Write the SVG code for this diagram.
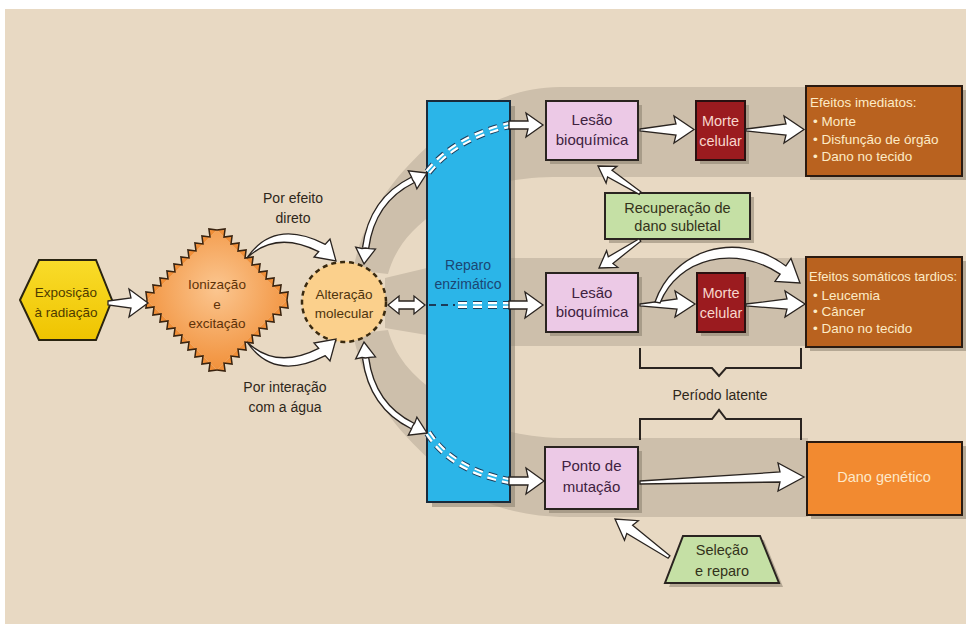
<svg xmlns="http://www.w3.org/2000/svg" width="966" height="624" viewBox="0 0 966 624">
<defs>
<style>
text{font-family:"Liberation Sans",Arial,sans-serif;text-anchor:middle}
.arr{fill:#fff;stroke:#2a2420;stroke-width:1.3;stroke-linejoin:miter}
.sh{fill:#8a7f6e;opacity:.55}
.band{fill:#cdbfab}
.lil{fill:#ecc9e6;stroke:#2a2420;stroke-width:2}
.mor{fill:#9b1b1f;stroke:#2a1010;stroke-width:2}
.efe{fill:#b9621f;stroke:#2a1a10;stroke-width:2}
.grn{fill:#c5e0a5;stroke:#2a2420;stroke-width:2}
.tl{font-size:15px;fill:#3e2240}
.tm{font-size:14.5px;fill:#f8d6cc}
.te{font-size:13px;fill:#fdebc6;text-anchor:start}
.tg{font-size:14.5px;fill:#33321a}
.lab{font-size:14px;fill:#2e271a}
.dk{fill:none;stroke:#1c3c5a;stroke-width:8;stroke-dasharray:9 6}
.wh{fill:none;stroke:#fff;stroke-width:6;stroke-dasharray:9 6}
.sp{fill:none;stroke:#2bb5e8;stroke-width:1.6}
.zz{fill:#f18f38;stroke:#3a2410;stroke-width:1.5;stroke-linejoin:miter}
.br{fill:none;stroke:#2a2420;stroke-width:2}
</style>
<radialGradient id="dg" cx="0.5" cy="0.42" r="0.6">
<stop offset="0" stop-color="#fbc690"/><stop offset="1" stop-color="#f18f38"/>
</radialGradient>
<linearGradient id="hg" x1="0" y1="0" x2="0" y2="1">
<stop offset="0" stop-color="#f9dc2a"/><stop offset="1" stop-color="#efc400"/>
</linearGradient>
<path id="zzp" d="M0,0 L4.95,-6.5 L9.9,0 L14.85,-6.5 L19.8,0 L24.75,-6.5 L29.7,0 L34.65,-6.5 L39.6,0 L44.55,-6.5 L49.5,0 L54.45,-6.5 L59.4,0 L64.35,-6.5 L69.3,0 L74.25,-6.5 L79.2,0 L84.15,-6.5 L89.1,0 L94.05,-6.5 L99,0"/>
<path id="curv" d="M247,258 Q274,218 325.3,244.3 L330,239 L336,261 L314,257 L318.7,251.7 Q276,230 247,258 Z"/>
</defs>

<rect x="0" y="0" width="966" height="624" fill="#ffffff"/>
<rect x="5" y="9" width="961" height="615" fill="#e8d9c3"/>

<g id="bands">
<path class="band" d="M353,270 C365,209 400,172 430,144 C460,118 500,88 560,87 L808,87 L808,177 L560,177 C500,177 470,190 440,209 C410,229 395,249 388,274 Z"/>
<path class="band" d="M385,278 L427,268 L510,258 L808,258 L808,346 L510,346 L427,335 L385,328 Z"/>
<path class="band" d="M353,334 L388,330 C395,355 410,375 440,395 C470,420 500,436 560,438 L808,438 L808,517 L560,517 C500,515 460,495 430,460 C400,432 365,395 353,334 Z"/>
</g>

<g id="reparo">
<rect class="sh" x="432" y="106" width="83" height="401"/>
<rect x="427" y="101" width="83" height="401" fill="#2bb5e8" stroke="#1a2a3a" stroke-width="2"/>
<text x="468" y="270" style="font-size:14px;fill:#1b4673">Reparo</text>
<text x="468" y="289" style="font-size:14px;fill:#1b4673">enzimático</text>
</g>

<g id="exposicao">
<polygon points="20,300 39,260 96,260 112,300 96,340 39,340" fill="url(#hg)" stroke="#2a2410" stroke-width="2"/>
<text x="66" y="297" style="font-size:13.5px;fill:#4e3b00">Exposição</text>
<text x="66" y="317" style="font-size:13.5px;fill:#4e3b00">à radiação</text>
</g>

<g id="ionizacao">
<polygon points="217,230 287,300 217,370 147,300" fill="url(#dg)"/>
<use href="#zzp" class="zz" transform="translate(217,230) rotate(45)"/>
<use href="#zzp" class="zz" transform="translate(287,300) rotate(135)"/>
<use href="#zzp" class="zz" transform="translate(217,370) rotate(225)"/>
<use href="#zzp" class="zz" transform="translate(147,300) rotate(315)"/>
<text x="217" y="289" style="font-size:13.5px;fill:#5e3208">Ionização</text>
<text x="217" y="309" style="font-size:13.5px;fill:#5e3208">e</text>
<text x="217" y="328" style="font-size:13.5px;fill:#5e3208">excitação</text>
</g>

<g id="alteracao">
<ellipse cx="344" cy="302" rx="42" ry="40" fill="#fbd08c" stroke="#3a2a10" stroke-width="2.5" stroke-dasharray="5 4"/>
<text x="344" y="299" style="font-size:13.5px;fill:#4e340c">Alteração</text>
<text x="344" y="318" style="font-size:13.5px;fill:#4e340c">molecular</text>
</g>

<g id="lesao1">
<rect class="sh" x="550" y="105" width="92" height="59"/>
<rect class="lil" x="546" y="101" width="92" height="59"/>
<text class="tl" x="592" y="125">Lesão</text>
<text class="tl" x="592" y="145">bioquímica</text>
</g>
<g id="morte1">
<rect class="sh" x="700" y="105" width="49" height="59"/>
<rect class="mor" x="696" y="101" width="49" height="59"/>
<text class="tm" x="720.5" y="126">Morte</text>
<text class="tm" x="720.5" y="146">celular</text>
</g>
<g id="efeitos1">
<rect class="sh" x="810" y="90" width="156" height="90"/>
<rect class="efe" x="806" y="86" width="156" height="90"/>
<text class="te" x="810" y="107" style="font-size:13.5px">Efeitos imediatos:</text>
<text class="te" x="813" y="126" style="font-size:13.5px">• Morte</text>
<text class="te" x="813" y="144" style="font-size:13.5px">• Disfunção de órgão</text>
<text class="te" x="813" y="161" style="font-size:13.5px">• Dano no tecido</text>
</g>
<g id="recuperacao">
<rect class="sh" x="609" y="197" width="145" height="46"/>
<rect class="grn" x="605" y="193" width="145" height="46"/>
<text class="tg" x="677.5" y="213">Recuperação de</text>
<text class="tg" x="677.5" y="231">dano subletal</text>
</g>
<g id="lesao2">
<rect class="sh" x="550" y="277" width="92" height="59"/>
<rect class="lil" x="546" y="273" width="92" height="59"/>
<text class="tl" x="592" y="298">Lesão</text>
<text class="tl" x="592" y="317">bioquímica</text>
</g>
<g id="morte2">
<rect class="sh" x="701" y="277" width="48" height="59"/>
<rect class="mor" x="697" y="273" width="48" height="59"/>
<text class="tm" x="721" y="298">Morte</text>
<text class="tm" x="721" y="318">celular</text>
</g>
<g id="efeitos2">
<rect class="sh" x="810" y="261" width="156" height="90"/>
<rect class="efe" x="806" y="257" width="156" height="90"/>
<text class="te" x="809" y="281">Efeitos somáticos tardios:</text>
<text class="te" x="813" y="300" style="font-size:13.5px">• Leucemia</text>
<text class="te" x="813" y="316" style="font-size:13.5px">• Câncer</text>
<text class="te" x="813" y="333" style="font-size:13.5px">• Dano no tecido</text>
</g>
<g id="ponto">
<rect class="sh" x="549" y="451" width="93" height="62"/>
<rect class="lil" x="545" y="447" width="93" height="62"/>
<text class="tl" x="591.5" y="471">Ponto de</text>
<text class="tl" x="591.5" y="492">mutação</text>
</g>
<g id="dano">
<rect class="sh" x="811" y="446" width="155" height="73"/>
<rect x="807" y="442" width="155" height="73" fill="#f28a30" stroke="#2a1a10" stroke-width="2"/>
<text x="884" y="482" style="font-size:14.5px;fill:#fde8c8">Dano genético</text>
</g>
<g id="selecao">
<polygon class="sh" points="687,540 764,540 783,587 669,587"/>
<polygon class="grn" points="683,536 760,536 779,583 665,583"/>
<text class="tg" x="722" y="555">Seleção</text>
<text class="tg" x="722" y="576">e reparo</text>
</g>

<g id="connectors">
<path class="dk" d="M428,172 Q455,138 509,125"/>
<path class="wh" d="M428,172 Q455,138 509,125"/>
<path class="sp" d="M428,172 Q455,138 509,125"/>
<line x1="429" y1="305" x2="455" y2="305" stroke="#1c3c5a" stroke-width="2.2" stroke-dasharray="7 5"/>
<path class="dk" d="M458,305 L509,305"/>
<path class="wh" d="M458,305 L509,305"/>
<path class="sp" d="M458,305 L509,305"/>
<path class="dk" d="M428,433 Q452,470 509,481"/>
<path class="wh" d="M428,433 Q452,470 509,481"/>
<path class="sp" d="M428,433 Q452,470 509,481"/>

<path class="arr" d="M108,301 L131,298 L129,289 L148,303 L129,317 L131,308 L108,305 Z"/>
<use href="#curv" class="arr"/>
<use href="#curv" class="arr" transform="translate(0,600) scale(1,-1)"/>
<path class="arr" d="M388,305 L399,296 L399,301 L414,301 L414,296 L425,305 L414,314 L414,309 L399,309 L399,314 Z"/>
<g id="dbl1">
<path d="M365.6,248 Q372,200 412.6,180" fill="none" stroke="#2a2420" stroke-width="7.5"/>
<path d="M365.6,248 Q372,200 412.6,180" fill="none" stroke="#fff" stroke-width="4.8"/>
<path class="arr" d="M427,173 L408.3,170.9 L411.5,177 L412.6,180 L414.8,183 L416.9,188.9 Z"/>
<path class="arr" d="M364,264 L355.7,247.1 L362,248.5 L365.6,248 L369.5,248.6 L375.5,249.1 Z"/>
</g>
<use href="#dbl1" transform="translate(0,606) scale(1,-1)"/>

<path class="arr" d="M509,121 L528,121 L526,113 L543,125 L526,137 L528,129 L509,129 Z"/>
<path class="arr" d="M640,129 L676,124 L674,116 L694,129.5 L674,143 L676,135 L640,131 Z"/>
<path class="arr" d="M746,129 L786,124 L784,116 L804,129.5 L784,143 L786,135 L746,131 Z"/>
<path class="arr" d="M640.8,191.7 L612,170.2 L616.9,166.3 L598,166 L606.1,183.1 L607.6,177 L639.2,194.3 Z"/>
<path class="arr" d="M639.2,238.8 L608.3,256.8 L606.6,250.7 L599,268 L617.8,267.3 L612.9,263.4 L640.8,241.2 Z"/>
<path class="arr" d="M509,301 L527,301 L525,292 L543,305 L525,318 L527,309 L509,309 Z"/>
<path class="arr" d="M640,304 L677,299 L675,291 L695,304 L675,317 L677,309 L640,306 Z"/>
<path class="arr" d="M746,304 L787,299 L785,291 L805,304 L785,317 L787,309 L746,306 Z"/>
<path class="arr" d="M655,302 C672,252 735,228 785.9,265.9 L791,258.5 L800,283 L775,281.5 L780.1,274.1 C735,244 678,258 660,303 Z"/>
<path class="arr" d="M509,477 L528,477 L526,468 L544,481 L526,494 L528,485 L509,485 Z"/>
<path class="arr" d="M640,481 L780,472 L778,463 L804,477 L778,491 L780,482 L640,484 Z"/>
<path class="arr" d="M669.9,555.8 L632.6,525.3 L638.3,520.7 L615,519 L624.5,540.3 L626.8,533.5 L668.1,558.2 Z"/>

<path class="br" d="M640,348 L640,368 L712,368 L719,376 L726,368 L801,368 L801,348"/>
<path class="br" d="M640,440 L640,419 L712,419 L719,410 L726,419 L801,419 L801,440"/>
</g>

<g id="labels">
<text class="lab" x="293" y="203">Por efeito</text>
<text class="lab" x="293" y="223">direto</text>
<text class="lab" x="285" y="392">Por interação</text>
<text class="lab" x="285" y="412">com a água</text>
<text class="lab" x="720" y="400">Período latente</text>
</g>
</svg>
